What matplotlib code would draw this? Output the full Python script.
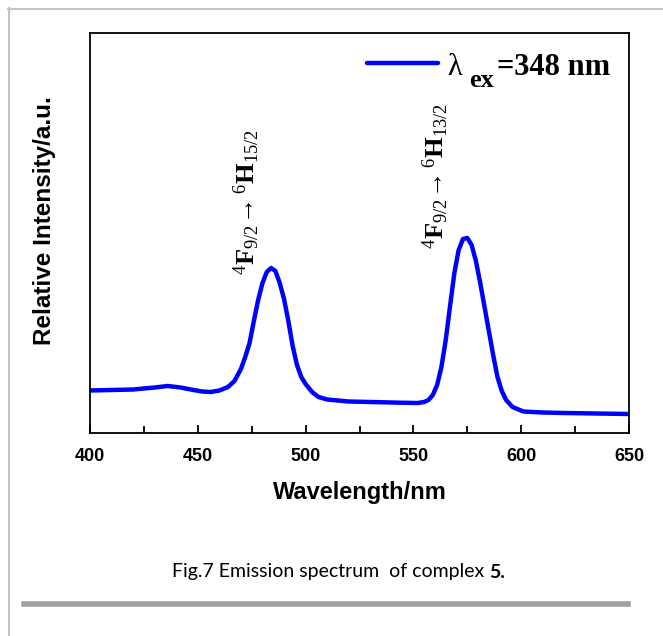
import matplotlib
matplotlib.use("Agg")
import matplotlib.pyplot as plt
from matplotlib.lines import Line2D
from matplotlib.ticker import MultipleLocator
from matplotlib.transforms import IdentityTransform

plt.rcParams['mathtext.fontset'] = 'custom'
plt.rcParams['mathtext.rm'] = 'Liberation Serif'
plt.rcParams['mathtext.bf'] = 'Liberation Serif:bold'
plt.rcParams['mathtext.it'] = 'Liberation Serif:italic'

# emission spectrum (wavelength in nm, intensity in arbitrary units)
wavelength = [400, 410, 420, 430, 436, 442, 448, 452, 456, 460, 464, 467, 470, 472,
              474, 476, 478, 480, 482, 484, 486, 488, 490, 492, 494, 496, 498, 500,
              503, 506, 510, 520, 530, 544, 552, 555, 557, 559, 561, 563, 565, 567,
              569, 571, 573, 575, 577, 579, 581, 583, 585, 587, 589, 591, 593, 596,
              601, 610, 620, 635, 650]
intensity = [42.5, 43, 43.5, 45.5, 47, 45.5, 43, 41.5, 41, 42.5, 46, 52, 64, 76,
             90, 112, 133, 150, 161, 165, 162, 150, 134, 112, 87, 68, 56, 49,
             41, 36, 33.5, 31.5, 31, 30.3, 30, 31, 33, 38, 48, 66, 93, 127,
             160, 183, 194, 195, 188, 172, 150, 126, 102, 78, 56, 42, 33, 26,
             21.5, 20.5, 20, 19.5, 19]

x_ticks = [400, 450, 500, 550, 600, 650]
peak_labels = [r'$^{4}\mathbf{F}_{9/2}\!\rightarrow{}^{6}\mathbf{H}_{15/2}$',
               r'$^{4}\mathbf{F}_{9/2}\!\rightarrow{}^{6}\mathbf{H}_{13/2}$']
peak_label_pos = [(472.8, 158), (560.5, 184)]

W, H = 663, 636
fig = plt.figure(figsize=(W / 100, H / 100), dpi=100)
ax = fig.add_axes([90 / W, 1 - 433 / H, 539 / W, 400 / H])

line, = ax.plot(wavelength, intensity, color='#0000ff', lw=3.2, solid_capstyle='round')

ax.set_xlim(400, 650)
ax.set_ylim(0, 400)
ax.set_yticks([])
ax.xaxis.set_major_locator(MultipleLocator(50))
ax.xaxis.set_minor_locator(MultipleLocator(25))
ax.set_xticks(x_ticks)
ax.tick_params(axis='x', which='both', direction='in', width=1.3, pad=11)
ax.tick_params(axis='x', which='major', length=6)
ax.tick_params(axis='x', which='minor', length=5)
for lab in ax.get_xticklabels():
    lab.set_fontfamily('Liberation Sans')
    lab.set_fontweight('bold')
    lab.set_fontsize(13)
for s in ax.spines.values():
    s.set_linewidth(1.3)

ax.set_xlabel('Wavelength/nm', fontfamily='Liberation Sans', fontweight='bold',
              fontsize=17, labelpad=11)
ax.set_ylabel('Relative Intensity/a.u.', fontfamily='Liberation Sans', fontweight='bold',
              fontsize=17.5)
ax.yaxis.set_label_coords(-0.063, 0.53)

for lbl, (px, py) in zip(peak_labels, peak_label_pos):
    ax.text(px, py, lbl, rotation=90, ha='center', va='bottom', fontsize=19,
            fontfamily='Liberation Serif')

# legend line, then lambda / bold subscript / value as separate texts
leg = ax.legend([line], [' '], loc='center left', frameon=False,
                bbox_to_anchor=((367 - 90) / 539, (433 - 66) / 400),
                prop={'family': 'Liberation Serif', 'size': 20},
                handlelength=2.55, handletextpad=0.2, borderpad=0, borderaxespad=0)
pix = IdentityTransform()
fig.text(447, H - 75, 'λ', transform=pix, fontfamily='Liberation Serif',
         fontsize=22, va='baseline')
fig.text(469, H - 87, 'ex', transform=pix, fontfamily='Liberation Serif',
         fontweight='bold', fontsize=19, va='baseline')
fig.text(497, H - 75, '=348 nm', transform=pix, fontfamily='Liberation Serif',
         fontweight='bold', fontsize=22, va='baseline')

# page decorations around the figure
fig.add_artist(Line2D([8 / W, 1], [1 - 9 / H, 1 - 9 / H], color='#c4c4c4', lw=1.5))
fig.add_artist(Line2D([9 / W, 9 / W], [0, 1 - 8 / H], color='#c4c4c4', lw=1.5))
fig.add_artist(Line2D([24 / W, 628 / W], [1 - 604 / H, 1 - 604 / H], color='#a0a0a0', lw=4))

cap = fig.text(172 / W, 1 - 572 / H, 'Fig.7 Emission spectrum  of complex ',
               fontfamily='Lato', fontsize=14, va='center', ha='left')
fig.canvas.draw()
bb = cap.get_window_extent()
fig.text(bb.x1 / W, 1 - 572 / H, '5.', fontfamily='Lato', fontweight='bold',
         fontsize=14, va='center', ha='left')

fig.savefig('out.png', dpi=100)
